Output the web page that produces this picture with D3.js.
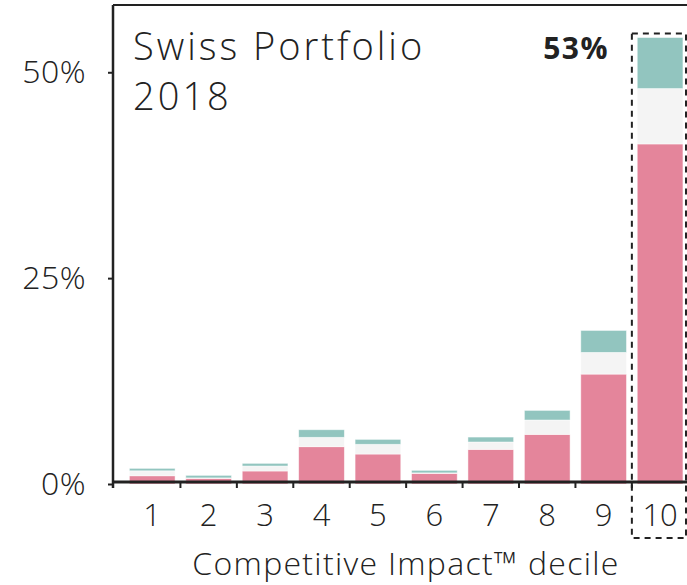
<!DOCTYPE html>
<html>
<head>
<meta charset="utf-8">
<script src="https://cdn.jsdelivr.net/npm/d3@7.9.0/dist/d3.min.js"></script>
<style>
  html, body { margin: 0; padding: 0; background: #fff; }
  svg { display: block; font-family: 'Open Sans', sans-serif; }
</style>
</head>
<body>
<svg id="chart" width="687" height="585"></svg>
<script>
// data (percent of portfolio per decile)
const deciles = ['1', '2', '3', '4', '5', '6', '7', '8', '9', '10'];
const pinkValues = [1.0, 0.69, 1.58, 4.53, 3.64, 1.3, 4.21, 6.03, 13.35, 41.3];
const greyValues = [0.6, 0.05, 0.6, 1.14, 1.18, 0.05, 0.89, 1.74, 2.63, 6.72];
const tealValues = [0.3, 0.31, 0.33, 0.92, 0.6, 0.31, 0.6, 1.17, 2.67, 6.2];
const seriesKeys = ['pink', 'grey', 'teal'];
const yTicks = [0, 25, 50];
const titleLines = ['Swiss Portfolio', '2018'];
const highlightDecile = '10';
const highlightLabel = '53%';
const xTitle = 'Competitive Impact™ decile';

const colors = { pink: '#e4859b', grey: '#f4f4f4', teal: '#92c5bf' };
const ink = '#222';

const svg = d3.select('#chart');
const plotLeft = 113, plotRight = 687, plotTop = 5, zero = 484;

let rows = deciles.map((d, i) => ({
  decile: d, pink: pinkValues[i], grey: greyValues[i], teal: tealValues[i]
}));

let x = d3.scaleBand().domain(deciles).range([124, 688.3]).paddingInner(0.19).paddingOuter(0.095);
let y = d3.scaleLinear().domain([0, 58.17]).range([zero, plotTop]);

let stacked = d3.stack().keys(seriesKeys)(rows);

// bars
svg.append('g')
  .selectAll('g')
  .data(stacked)
  .join('g')
  .attr('fill', (s) => colors[s.key])
  .selectAll('rect')
  .data((s) => s)
  .join('rect')
  .attr('x', (d) => x(d.data.decile))
  .attr('width', x.bandwidth())
  .attr('y', (d) => y(d[1]))
  .attr('height', (d) => Math.max(0, y(d[0]) - y(d[1])))
  .attr('stroke', '#fff')
  .attr('stroke-opacity', 0.6)
  .attr('stroke-width', 0.8);

// frame: top line and left axis line
svg.append('line').attr('x1', plotLeft).attr('x2', plotRight).attr('y1', plotTop).attr('y2', plotTop)
  .attr('stroke', ink).attr('stroke-width', 2);
svg.append('line').attr('x1', plotLeft).attr('x2', plotLeft).attr('y1', plotTop).attr('y2', 488)
  .attr('stroke', ink).attr('stroke-width', 2.5);

// y axis
let yAxis = svg.append('g')
  .attr('transform', `translate(${plotLeft},0)`)
  .call(d3.axisLeft(y).tickValues(yTicks).tickFormat((d) => d + '%').tickSize(5).tickPadding(22));
yAxis.select('.domain').remove();
yAxis.attr('font-family', null).attr('font-size', null);
yAxis.selectAll('line').attr('stroke', ink).attr('stroke-width', 2);
yAxis.selectAll('text').attr('font-size', 32).attr('font-weight', 300).attr('fill', ink)
  .attr('letter-spacing', 0.5);

// x axis line
let gap = x.step() - x.bandwidth();
svg.append('line').attr('x1', plotLeft).attr('x2', plotRight).attr('y1', zero - 2).attr('y2', zero - 2)
  .attr('stroke', ink).attr('stroke-width', 3);

// x ticks at band boundaries
let boundaries = [plotLeft].concat(deciles.slice(1).map((d) => x(d) - gap / 2));
svg.append('g')
  .selectAll('line')
  .data(boundaries)
  .join('line')
  .attr('x1', (d) => d).attr('x2', (d) => d)
  .attr('y1', zero - 2).attr('y2', 488)
  .attr('stroke', ink).attr('stroke-width', 2);

// x labels
svg.append('g')
  .selectAll('text')
  .data(deciles)
  .join('text')
  .attr('x', (d) => x(d) + x.bandwidth() / 2)
  .attr('y', 526)
  .attr('text-anchor', 'middle')
  .attr('font-size', 31)
  .attr('font-weight', 300)
  .attr('fill', ink)
  .text((d) => d);

svg.append('text')
  .attr('x', 406).attr('y', 575)
  .attr('text-anchor', 'middle')
  .attr('font-size', 32)
  .attr('font-weight', 300)
  .attr('letter-spacing', 1.3)
  .attr('fill', ink)
  .text(xTitle);

// title
svg.append('g')
  .selectAll('text')
  .data(titleLines)
  .join('text')
  .attr('x', 133)
  .attr('y', (d, i) => 60 + i * 50)
  .attr('font-size', 38)
  .attr('font-weight', 300)
  .attr('letter-spacing', 3)
  .attr('fill', ink)
  .text((d) => d);

// highlighted decile: dashed box and total label
let hi = rows.find((r) => r.decile === highlightDecile);
let hiTotal = hi.pink + hi.grey + hi.teal;
let boxX = x(highlightDecile) - gap / 2;
svg.append('rect')
  .attr('x', boxX).attr('y', y(hiTotal) - 4)
  .attr('width', x.step() - 2.3)
  .attr('height', 538 - (y(hiTotal) - 4))
  .attr('fill', 'none')
  .attr('stroke', ink)
  .attr('stroke-width', 2)
  .attr('stroke-dasharray', '6,5');

svg.append('text')
  .attr('x', 609).attr('y', 59)
  .attr('text-anchor', 'end')
  .attr('font-size', 30)
  .attr('font-weight', 700)
  .attr('letter-spacing', 1.5)
  .attr('fill', ink)
  .text(highlightLabel);
</script>
</body>
</html>
